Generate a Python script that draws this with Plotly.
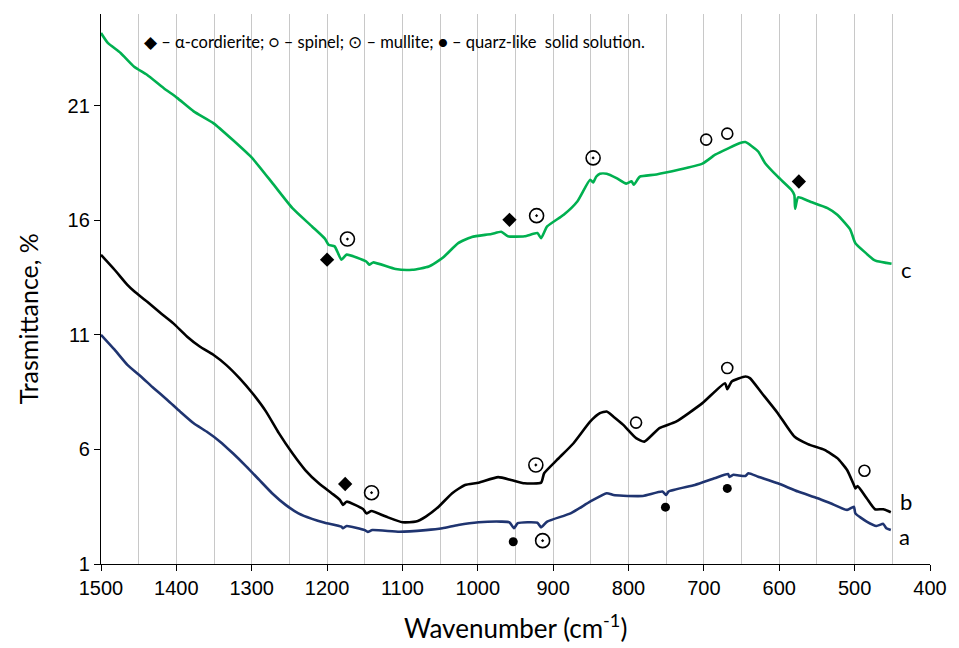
import plotly.graph_objects as go

# ---- data (wavenumber cm-1, transmittance %) ----
green_w = [1500,1491,1474,1456,1439,1417,1399,1377,1351,1325,1299,1272,1246,1220,1203,1198,1190,1181,1174,1148,1144,1139,1109,1087,1065,1047,1026,1008,982,969,960,938,921,916,908,886,868,851,847,843,838,829,816,803,796,793,785,763,702,685,667,652,645,628,619,602,584,580,579,575,558,536,523,506,501,499,475,471,458,451]
green_T = [24.17,23.74,23.3,22.7,22.35,21.77,21.34,20.75,20.24,19.5,18.7,17.6,16.53,15.73,15.2,14.93,14.86,14.28,14.5,14.2,14.06,14.16,13.87,13.84,13.98,14.35,15.0,15.27,15.4,15.5,15.3,15.3,15.44,15.22,15.73,16.24,16.82,17.77,17.65,17.9,18.03,18.03,17.84,17.6,17.7,17.55,17.9,18.0,18.47,18.86,19.15,19.37,19.41,19.0,18.5,17.9,17.33,17.1,16.5,17.0,16.8,16.53,16.24,15.6,15.15,15.0,14.28,14.22,14.14,14.1]

black_w = [1500,1482,1465,1456,1439,1421,1404,1386,1369,1351,1334,1316,1299,1281,1264,1246,1229,1211,1194,1183,1179,1174,1152,1148,1141,1122,1100,1082,1069,1052,1034,1017,999,973,956,938,916,912,895,873,851,838,829,820,807,790,779,759,737,702,672,669,663,645,639,623,602,580,562,540,523,510,501,499,496,484,473,462,452]
black_T = [14.49,13.84,13.18,12.9,12.45,11.95,11.5,10.93,10.49,10.13,9.69,9.1,8.45,7.65,6.71,5.83,5.1,4.52,4.09,3.8,3.58,3.72,3.39,3.21,3.31,3.07,2.82,2.85,3.07,3.5,4.09,4.45,4.55,4.79,4.67,4.52,4.55,4.96,5.54,6.27,7.21,7.58,7.65,7.43,7.07,6.49,6.34,6.93,7.21,8.02,8.89,8.63,8.96,9.18,9.11,8.45,7.58,6.56,6.23,5.98,5.62,5.1,4.45,4.3,4.4,3.87,3.39,3.39,3.26]

blue_w = [1500,1482,1465,1447,1430,1412,1395,1377,1360,1342,1325,1307,1290,1273,1255,1238,1220,1203,1181,1179,1174,1150,1146,1140,1104,1069,1047,1026,999,969,958,952,947,921,916,908,877,851,829,820,807,781,755,750,747,712,686,668,666,661,645,641,628,602,575,549,532,510,501,499,484,471,462,458,452]
blue_T = [11.0,10.35,9.69,9.18,8.67,8.16,7.65,7.14,6.78,6.34,5.83,5.25,4.67,4.09,3.58,3.21,2.97,2.8,2.63,2.56,2.66,2.48,2.4,2.48,2.41,2.48,2.56,2.7,2.82,2.85,2.82,2.56,2.78,2.8,2.6,2.85,3.21,3.72,4.09,4.01,3.98,3.97,4.16,4.01,4.16,4.45,4.74,4.93,4.8,4.89,4.84,4.96,4.81,4.52,4.16,3.87,3.65,3.36,3.5,3.21,2.85,2.66,2.75,2.56,2.48]

# phase markers
cordierite_w = [1200, 958, 574, 1176]
cordierite_T = [14.28, 16.02, 17.69, 4.49]
spinel_w = [697, 669, 790, 669, 487]
spinel_T = [19.52, 19.78, 7.17, 9.55, 5.07]
mullite_w = [1173, 922, 847, 1141, 923, 914]
mullite_T = [15.18, 16.2, 18.72, 4.11, 5.32, 2.02]
quartz_w = [953, 751, 669]
quartz_T = [1.97, 3.48, 4.3]

curve_labels = ["c", "b", "a"]
curve_label_w = [441, 443, 444]
curve_label_T = [13.84, 3.72, 2.19]

x_ticks = [1500, 1400, 1300, 1200, 1100, 1000, 900, 800, 700, 600, 500, 400]
y_ticks = [1, 6, 11, 16, 21]

legend_text = "\u25C6 \u2013 \u03B1-cordierite; \u25CB \u2013 spinel; \u2299 \u2013 mullite; \u25CF \u2013 quarz-like  solid solution."

LINE_SHAPE = dict(shape="spline", smoothing=0.5)

fig = go.Figure()
fig.add_trace(go.Scatter(x=green_w, y=green_T, mode="lines", line=dict(color="#00B050", width=2.6, **LINE_SHAPE), showlegend=False))
fig.add_trace(go.Scatter(x=black_w, y=black_T, mode="lines", line=dict(color="#000000", width=2.6, **LINE_SHAPE), showlegend=False))
fig.add_trace(go.Scatter(x=blue_w, y=blue_T, mode="lines", line=dict(color="#1F3470", width=2.6, **LINE_SHAPE), showlegend=False))

fig.add_trace(go.Scatter(x=cordierite_w, y=cordierite_T, mode="markers",
                         marker=dict(symbol="diamond", size=11, color="black"), showlegend=False))
fig.add_trace(go.Scatter(x=spinel_w, y=spinel_T, mode="markers",
                         marker=dict(symbol="circle-open", size=11, color="black", line=dict(width=1.6)), showlegend=False))
fig.add_trace(go.Scatter(x=mullite_w, y=mullite_T, mode="markers",
                         marker=dict(symbol="circle-open-dot", size=14, color="black", line=dict(width=1.6)), showlegend=False))
fig.add_trace(go.Scatter(x=quartz_w, y=quartz_T, mode="markers",
                         marker=dict(symbol="circle", size=9, color="black"), showlegend=False))

for t, w, T in zip(curve_labels, curve_label_w, curve_label_T):
    fig.add_annotation(x=w, y=T, text=t, showarrow=False, xanchor="left",
                       font=dict(family="Lato", size=22, color="black"))

fig.add_annotation(xref="paper", yref="paper", x=0.05, y=0.949, text=legend_text,
                   showarrow=False, xanchor="left", yanchor="middle",
                   font=dict(family="Lato", size=16.5, color="black"))

fig.add_annotation(xref="paper", yref="paper", x=-0.088, y=0.445, text="Trasmittance, %",
                   showarrow=False, textangle=-90, xanchor="center", yanchor="middle",
                   font=dict(family="Lato", size=25, color="black"))
fig.add_annotation(xref="paper", yref="paper", x=0.5, y=-0.113, text="Wavenumber (cm<sup>-1</sup>)",
                   showarrow=False, xanchor="center", yanchor="middle",
                   font=dict(family="Lato", size=26, color="black"))

fig.update_layout(
    width=959, height=648,
    margin=dict(l=101, r=20, t=14, b=84),
    paper_bgcolor="white", plot_bgcolor="white",
    font=dict(family="Liberation Sans Narrow, Liberation Sans, Arial", size=20, color="black"),
    xaxis=dict(range=[1500, 400], tickvals=x_ticks, ticktext=[str(v) for v in x_ticks],
               showgrid=True, gridcolor="#C8C8C8", gridwidth=1,
               minor=dict(dtick=50, tick0=400, showgrid=True, gridcolor="#C8C8C8", gridwidth=1),
               showline=True, linecolor="black", linewidth=1.3,
               ticks="outside", ticklen=6, tickcolor="black", zeroline=False),
    yaxis=dict(range=[1, 25], tickvals=y_ticks, ticktext=[str(v) for v in y_ticks],
               showgrid=False, showline=True, linecolor="black", linewidth=1.3,
               ticks="outside", ticklen=6, tickcolor="black", zeroline=False),
)

fig.write_html("out.html", config={"displayModeBar": False},
               post_script="document.body.style.margin='0';document.body.style.overflow='hidden';")
